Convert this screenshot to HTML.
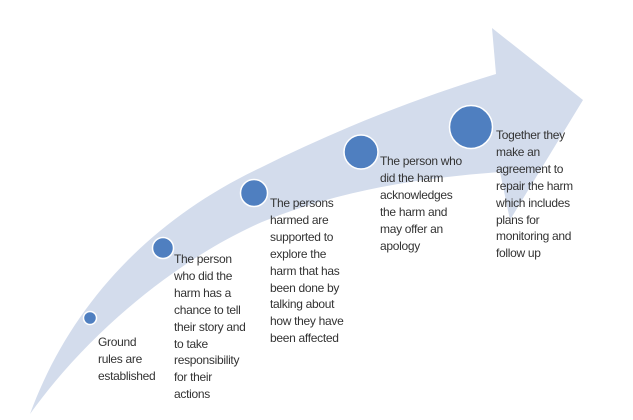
<!DOCTYPE html>
<html><head><style>
body{margin:0;width:633px;height:420px;background:#fff;overflow:hidden;position:relative;font-family:"Liberation Sans",sans-serif;}
.t{position:absolute;font-size:12px;line-height:16.9px;color:#333;white-space:nowrap;letter-spacing:-0.3px;}
svg{position:absolute;left:0;top:0}
</style></head><body>
<svg width="633" height="420">
<path d="M30,414 C70,305 150,220 260,168 C340,128 420,97 496,74 L492,28 L583,100 L510,220 L500,172 C420,178 340,190 262,222 C180,258 90,330 30,414 Z" fill="#d3dcec"/>
<g fill="#4f7fc0" stroke="#fff" stroke-width="1.5">
<circle cx="90" cy="318" r="6.5"/>
<circle cx="163" cy="248" r="10.5"/>
<circle cx="254" cy="193" r="13.5"/>
<circle cx="361" cy="152" r="17"/>
<circle cx="471" cy="127" r="21.5"/>
</g>
</svg>
<div class="t" style="left:98px;top:334px">Ground<br>rules are<br>established</div>
<div class="t" style="left:174px;top:251px">The person<br>who did the<br>harm has a<br>chance to tell<br>their story and<br>to take<br>responsibility<br>for their<br>actions</div>
<div class="t" style="left:270px;top:195px">The persons<br>harmed are<br>supported to<br>explore the<br>harm that has<br>been done by<br>talking about<br>how they have<br>been affected</div>
<div class="t" style="left:380px;top:153px">The person who<br>did the harm<br>acknowledges<br>the harm and<br>may offer an<br>apology</div>
<div class="t" style="left:496px;top:127px">Together they<br>make an<br>agreement to<br>repair the harm<br>which includes<br>plans for<br>monitoring and<br>follow up</div>
</body></html>
